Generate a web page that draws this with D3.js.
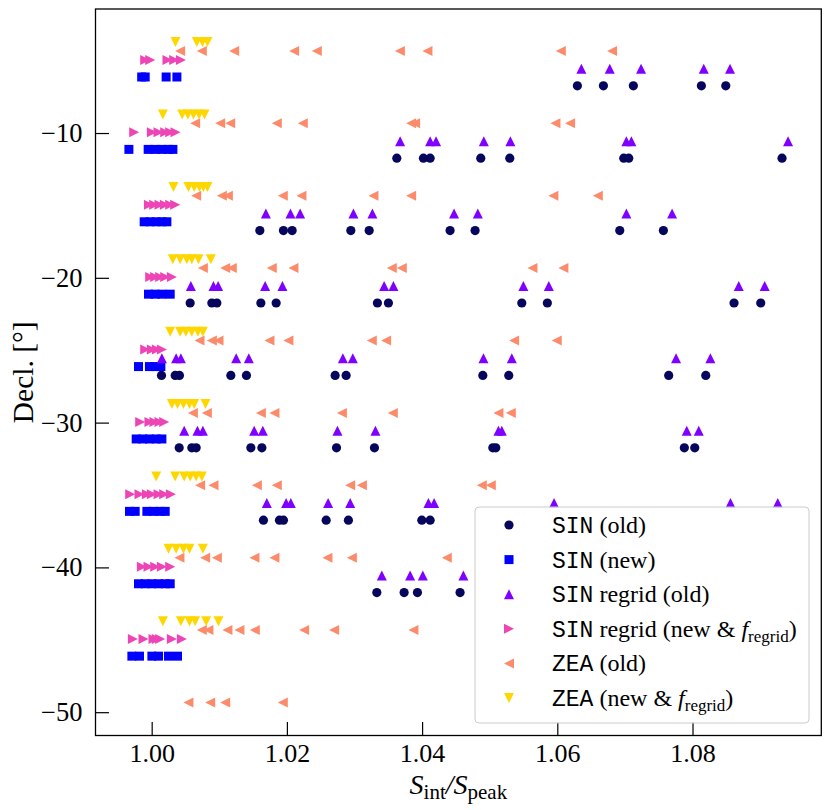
<!DOCTYPE html>
<html>
<head>
<meta charset="utf-8">
<script src="https://cdn.jsdelivr.net/npm/d3@7"></script>
<style>
  body { margin: 0; background: #fff; }
  svg { display: block; }
</style>
</head>
<body>
<div id="chart"></div>
<script>
// x values (S_int / S_peak) per declination strip, one list per strip
const sinOldDecl = [-6.74, -11.74, -16.74, -21.74, -26.74, -31.74, -36.74, -41.74];
const sinOldX = [
  [1.06297, 1.06682, 1.07125, 1.08131, 1.08492],
  [1.03626, 1.0402, 1.04119, 1.04868, 1.05297, 1.06983, 1.07057, 1.09324],
  [1.016, 1.01949, 1.02078, 1.02946, 1.03217, 1.04414, 1.04784, 1.06924, 1.07569],
  [1.00569, 1.0089, 1.00964, 1.01615, 1.01841, 1.03339, 1.03502, 1.05475, 1.05853, 1.08614, 1.09009],
  [1.00145, 1.00348, 1.00411, 1.01171, 1.01402, 1.02714, 1.02876, 1.04898, 1.05282, 1.07648, 1.08196],
  [1.00407, 1.00594, 1.00658, 1.01467, 1.0163, 1.02734, 1.03295, 1.05046, 1.0509, 1.07879, 1.08033],
  [1.01653, 1.0189, 1.01949, 1.02581, 1.0291, 1.03996, 1.04119],
  [1.0333, 1.03734, 1.03931, 1.04562]
];

const sinNewDecl = [-6.13, -11.13, -16.13, -21.13, -26.13, -31.13, -36.13, -41.13, -46.13];
const sinNewX = [
  [0.99852, 0.99904, 1.00214, 1.00373],
  [0.99663, 0.99948, 1.00052, 1.00151, 1.00248, 1.00314],
  [0.99889, 0.99978, 1.00067, 1.00151, 1.00225],
  [0.99953, 1.00052, 1.00151, 1.00274],
  [0.99805, 0.99967, 1.00052, 1.00136],
  [0.99771, 0.9987, 0.99967, 1.00067, 1.00151],
  [0.99672, 0.99756, 0.99929, 1.00027, 1.00126, 1.002],
  [0.99805, 0.99904, 1.00003, 1.00101, 1.002, 1.00274],
  [0.99707, 0.9982, 1.00003, 1.00101, 1.00249, 1.00382]
];

const sinRegridOldDecl = [-5.56, -10.56, -15.56, -20.56, -25.56, -30.56, -35.56, -40.56];
const sinRegridOldX = [
  [1.06356, 1.06776, 1.07239, 1.08166, 1.08555],
  [1.03675, 1.04119, 1.04207, 1.04913, 1.05306, 1.07022, 1.07096, 1.09413],
  [1.01689, 1.02053, 1.02196, 1.02984, 1.03265, 1.04473, 1.04824, 1.07022, 1.07698],
  [1.0058, 1.00914, 1.00983, 1.01678, 1.01934, 1.03438, 1.03576, 1.05498, 1.05874, 1.08684, 1.09068],
  [1.00151, 1.00362, 1.00432, 1.0125, 1.01437, 1.02828, 1.02975, 1.04907, 1.05327, 1.07757, 1.08264],
  [1.00481, 1.00677, 1.00757, 1.01516, 1.01644, 1.02748, 1.0331, 1.05129, 1.05179, 1.07915, 1.08092],
  [1.01703, 1.01989, 1.02058, 1.0261, 1.02936, 1.04094, 1.04178, 1.05952, 1.08561, 1.09261],
  [1.03404, 1.03823, 1.04011, 1.04611]
];

const sinRegridNewDecl = [-4.95, -9.95, -14.95, -19.95, -24.95, -29.95, -34.95, -39.95, -44.95];
const sinRegridNewX = [
  [0.99904, 0.99978, 1.00234, 1.00333, 1.00432],
  [0.99741, 1.00003, 1.00101, 1.002, 1.00274, 1.00352],
  [0.99959, 1.00037, 1.00116, 1.00195, 1.00274, 1.00348],
  [0.99978, 1.00052, 1.00126, 1.002, 1.00299],
  [0.99904, 1.00003, 1.00077, 1.00151],
  [0.9983, 0.99967, 1.00041, 1.00116, 1.00185],
  [0.99682, 0.9982, 0.99929, 1.00003, 1.00101, 1.00185, 1.00284],
  [0.99855, 0.99953, 1.00052, 1.00151, 1.00274],
  [0.99722, 0.99879, 1.00027, 1.00077, 1.00126, 1.00299, 1.00447]
];

const zeaOldDecl = [-4.33, -9.33, -14.33, -19.33, -24.33, -29.33, -34.33, -39.33, -44.33, -49.33];
const zeaOldX = [
  [1.00421, 1.00742, 1.0122, 1.02107, 1.02443, 1.03671, 1.04079, 1.06052, 1.0681],
  [1.00643, 1.01013, 1.01161, 1.01851, 1.02236, 1.03838, 1.03897, 1.05972, 1.06189],
  [1.00658, 1.01038, 1.01127, 1.0194, 1.02215, 1.0328, 1.03838, 1.05942, 1.06599],
  [1.00757, 1.01087, 1.01185, 1.01777, 1.02097, 1.03552, 1.037, 1.05632, 1.0609],
  [1.00707, 1.0089, 1.00988, 1.01742, 1.02023, 1.03256, 1.03468, 1.05361, 1.05992],
  [1.00609, 1.00816, 1.01615, 1.01816, 1.02813, 1.03567, 1.05129, 1.05312],
  [1.00717, 1.00914, 1.01556, 1.01851, 1.02936, 1.03109, 1.04883, 1.05016],
  [1.00411, 1.00791, 1.00964, 1.0152, 1.01816, 1.026, 1.02961, 1.04366],
  [1.00742, 1.0084, 1.01121, 1.01298, 1.01526, 1.02255, 1.02699, 1.03872],
  [1.00544, 1.00865, 1.01087, 1.0194]
];

const zeaNewDecl = [-3.72, -8.72, -13.72, -18.72, -23.72, -28.72, -33.72, -38.72, -43.72];
const zeaNewX = [
  [1.00352, 1.00668, 1.00751, 1.00825],
  [1.00166, 1.00451, 1.00535, 1.00618, 1.00702, 1.00781],
  [1.00322, 1.00544, 1.00628, 1.00707, 1.00766, 1.00825],
  [1.00313, 1.00421, 1.00521, 1.00594, 1.00693, 1.00875],
  [1.00274, 1.00421, 1.00506, 1.00594, 1.00683, 1.00757],
  [1.00299, 1.00382, 1.0047, 1.00559, 1.00629, 1.00796],
  [1.00067, 1.00348, 1.00481, 1.0057, 1.00658, 1.00742],
  [1.00249, 1.00362, 1.0047, 1.00559, 1.00757],
  [1.00166, 1.00432, 1.00559, 1.00643, 1.00806, 1.00988]
];

const xTicks = [1.00, 1.02, 1.04, 1.06, 1.08];
const yTicks = [-10, -20, -30, -40, -50];

// legend labels: [text, kind] pieces (mono = projection name, sub = subscript)
const legendLabels = [
  [["SIN", "mono"], [" (old)", "serif"]],
  [["SIN", "mono"], [" (new)", "serif"]],
  [["SIN", "mono"], [" regrid (old)", "serif"]],
  [["SIN", "mono"], [" regrid (new & ", "serif"], ["f", "ital"], ["regrid", "sub"], [")", "serif"]],
  [["ZEA", "mono"], [" (old)", "serif"]],
  [["ZEA", "mono"], [" (new & ", "serif"], ["f", "ital"], ["regrid", "sub"], [")", "serif"]]
];

const series = [
  {decl: sinOldDecl, xs: sinOldX, shape: "circle", color: "#06065c"},
  {decl: sinNewDecl, xs: sinNewX, shape: "square", color: "#0000ff"},
  {decl: sinRegridOldDecl, xs: sinRegridOldX, shape: "up", color: "#7f00ff"},
  {decl: sinRegridNewDecl, xs: sinRegridNewX, shape: "right", color: "#ee45b6"},
  {decl: zeaOldDecl, xs: zeaOldX, shape: "left", color: "#fc8b6c"},
  {decl: zeaNewDecl, xs: zeaNewX, shape: "down", color: "#ffd700"}
];

const width = 831, height = 810;
const margin = {top: 9, right: 9.7, bottom: 74.5, left: 95.5};
const serif = "'Liberation Serif', 'Times New Roman', serif";
const mono = "'Liberation Mono', 'DejaVu Sans Mono', monospace";

const svg = d3.select("#chart").append("svg")
    .attr("width", width)
    .attr("height", height);

const x = d3.scaleLinear()
    .domain([0.99169, 1.09905])
    .range([margin.left, width - margin.right]);

const y = d3.scaleLinear()
    .domain([-51.61, -1.434])
    .range([height - margin.bottom, margin.top]);

// marker shapes
function markerPath(shape) {
  const h = 5;
  if (shape === "circle") return d3.symbol(d3.symbolCircle, Math.PI * 4.6 * 4.6)();
  if (shape === "square") return d3.symbol(d3.symbolSquare, 81)();
  return `M0,${-h}L${h},${h}L${-h},${h}Z`;
}
function markerRotate(shape) {
  return {up: 0, down: 180, left: -90, right: 90}[shape] || 0;
}

// Draw points
series.forEach(s => {
  const pts = [];
  s.xs.forEach((row, i) => row.forEach(v => pts.push({x: v, d: s.decl[i]})));
  svg.append("g").selectAll("path")
    .data(pts)
    .join("path")
      .attr("d", markerPath(s.shape))
      .attr("transform", d => `translate(${x(d.x)},${y(d.d)}) rotate(${markerRotate(s.shape)})`)
      .attr("fill", s.color);
});

// X axis, ticks pointing in
const xAxis = svg.append("g")
    .attr("transform", `translate(0,${height - margin.bottom})`)
    .call(d3.axisBottom(x).tickValues(xTicks).tickFormat(d3.format(".2f")).tickSize(-13.5).tickPadding(8))
    .call(g => g.select(".domain").remove());
xAxis.selectAll("text")
    .attr("font-family", serif)
    .attr("font-size", 26)
    .attr("fill", "#000");
xAxis.selectAll("line").attr("stroke", "#000").attr("stroke-width", 1.2);

// Y axis
const yAxis = svg.append("g")
    .attr("transform", `translate(${margin.left},0)`)
    .call(d3.axisLeft(y).tickValues(yTicks).tickSize(-13.5).tickPadding(13))
    .call(g => g.select(".domain").remove());
yAxis.selectAll("text")
    .attr("font-family", serif)
    .attr("font-size", 26.5)
    .attr("fill", "#000");
yAxis.selectAll("line").attr("stroke", "#000").attr("stroke-width", 1.2);

// frame
svg.append("rect")
    .attr("x", margin.left)
    .attr("y", margin.top)
    .attr("width", width - margin.left - margin.right)
    .attr("height", height - margin.top - margin.bottom)
    .attr("fill", "none")
    .attr("stroke", "#000")
    .attr("stroke-width", 1.3);

// axis labels
const xl = svg.append("text")
    .attr("x", (margin.left + width - margin.right) / 2)
    .attr("y", 794)
    .attr("text-anchor", "middle")
    .attr("font-family", serif)
    .attr("font-size", 28);
xl.append("tspan").attr("font-style", "italic").text("S");
xl.append("tspan").attr("font-size", 21).attr("dy", 5).text("int");
xl.append("tspan").attr("dy", -5).attr("font-style", "italic").text("/S");
xl.append("tspan").attr("font-size", 21).attr("dy", 5).text("peak");

svg.append("text")
    .attr("transform", `translate(33,${(margin.top + height - margin.bottom) / 2}) rotate(-90)`)
    .attr("text-anchor", "middle")
    .attr("font-family", serif)
    .attr("font-size", 29.5)
    .text("Decl. [°]");

// legend
const legend = svg.append("g");
legend.append("rect")
    .attr("x", 475).attr("y", 507)
    .attr("width", 334).attr("height", 216)
    .attr("rx", 4)
    .attr("fill", "#fff")
    .attr("fill-opacity", 0.8)
    .attr("stroke", "#cccccc")
    .attr("stroke-width", 1);

series.forEach((s, i) => {
  const ry = 525 + i * 34.6;
  legend.append("path")
      .attr("d", markerPath(s.shape))
      .attr("transform", `translate(509,${ry}) rotate(${markerRotate(s.shape)})`)
      .attr("fill", s.color);
  const t = legend.append("text")
      .attr("x", 552)
      .attr("y", ry + 8)
      .attr("font-family", serif)
      .attr("font-size", 24)
      .attr("fill", "#000");
  let shifted = false;
  legendLabels[i].forEach(([txt, kind]) => {
    const sp = t.append("tspan").text(txt);
    if (kind === "mono") sp.attr("font-family", mono).attr("font-size", 23);
    if (kind === "ital") sp.attr("font-style", "italic");
    if (kind === "sub") { sp.attr("font-size", 17).attr("dy", 5); shifted = true; }
    else if (shifted) { sp.attr("dy", -5); shifted = false; }
  });
});
</script>
</body>
</html>
